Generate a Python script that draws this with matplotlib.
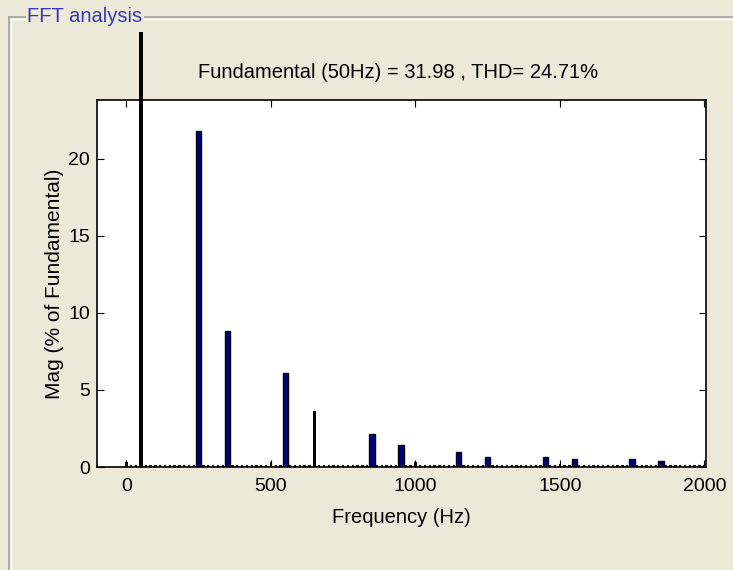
import matplotlib
matplotlib.use('Agg')
import matplotlib.pyplot as plt
from matplotlib.lines import Line2D
from matplotlib.transforms import Bbox, TransformedBbox
import numpy as np

plt.rcParams['font.family'] = ['Liberation Sans', 'DejaVu Sans']

# harmonic spectrum, 0..2000 Hz in 50 Hz steps (% of fundamental)
harm_freq = list(range(0, 2001, 50))
harm_mag = [0.35, 100, 0.1, 0.1, 0.1, 21.8, 0.1, 8.8, 0.1, 0.1,
            0.3, 6.1, 0.1, 3.6, 0.1, 0.1, 0.1, 2.15, 0.1, 1.45,
            0.3, 0.1, 0.1, 0.97, 0.1, 0.65, 0.1, 0.1, 0.1, 0.65,
            0.2, 0.5, 0.1, 0.1, 0.1, 0.5, 0.1, 0.4, 0.1, 0.1,
            0.1]
# inter-harmonic noise floor (bins between harmonics)
interharm_mag = 0.1
fund_freq = 50
fund_mag = 31.98
thd = 24.71

blue_freqs = {250, 350, 550, 850, 950, 1150, 1250, 1450, 1550, 1750, 1850}
bg = '#ECE9D8'

fig = plt.figure(figsize=(7.33, 5.70), dpi=100, facecolor=bg)
W, H = 733, 570

# panel frame
fig.add_artist(Line2D([9 / W, 1], [1 - 17 / H, 1 - 17 / H], color='#A0A0A0', lw=1.2))
fig.add_artist(Line2D([10.5 / W, 1], [1 - 18.5 / H, 1 - 18.5 / H], color='white', lw=1))
fig.add_artist(Line2D([9 / W, 9 / W], [0, 1 - 17 / H], color='#A0A0A0', lw=1.2))
fig.add_artist(Line2D([10.5 / W, 10.5 / W], [0, 1 - 18.5 / H], color='white', lw=1))
fig.text(27 / W, 1 - 16 / H, 'FFT analysis', color='#3838B0', fontsize=14.5,
         ha='left', va='center',
         bbox=dict(facecolor=bg, edgecolor='none', pad=1))

ax = fig.add_axes([97 / W, 1 - 467 / H, (706 - 97) / W, (467 - 100) / H])
ax.set_facecolor('white')

# inter-harmonic bins
step = fund_freq / 3
for f0 in harm_freq[:-1]:
    for k in (1, 2):
        ax.bar(f0 + k * step, interharm_mag, width=8, color='black', linewidth=0)

clip = TransformedBbox(Bbox([[0, 0], [1, 1 - 32 / H]]), fig.transFigure)
for f, m in zip(harm_freq, harm_mag):
    if f in blue_freqs:
        bars = ax.bar(f, m, width=18, color='#000080', edgecolor='black', linewidth=1.0)
    elif m > 1:
        bars = ax.bar(f, m, width=12, color='black', linewidth=0)
    else:
        bars = ax.bar(f, m, width=8, color='black', linewidth=0)
    if f == fund_freq:
        for b in bars:
            b.set_clip_box(clip)

ax.set_xlim(-102, 2006)
ax.set_ylim(0, 23.8)
ax.set_xticks([0, 500, 1000, 1500, 2000])
ax.set_yticks([0, 5, 10, 15, 20])
ax.tick_params(direction='in', top=True, right=True, length=5, labelsize=14)
ax.tick_params(axis='x', pad=8)
ax.tick_params(axis='y', pad=5)
for s in ax.spines.values():
    s.set_linewidth(1.2)

ax.set_xlabel('Frequency (Hz)', fontsize=14.5, labelpad=9)
ax.set_ylabel('Mag (% of Fundamental)', fontsize=15, labelpad=3)
fig.text(398 / W, 1 - 73 / H,
         'Fundamental (%dHz) = %.2f , THD= %.2f%%' % (fund_freq, fund_mag, thd),
         fontsize=14.5, ha='center', va='center')

fig.savefig('out.png', dpi=100, facecolor=bg)
